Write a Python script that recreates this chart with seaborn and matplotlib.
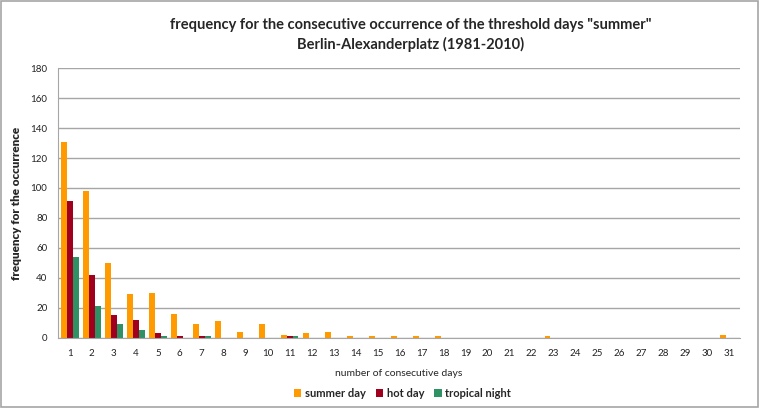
import matplotlib
matplotlib.use("Agg")
import matplotlib.pyplot as plt
import numpy as np
import pandas as pd
import seaborn as sns
from matplotlib.patches import Rectangle

days = list(range(1, 32))
summer_day = [131, 98, 50, 29, 30, 16, 9, 11, 4, 9, 2, 3, 4, 1, 1, 1, 1, 1, 0, 0,
              0, 0, 1, 0, 0, 0, 0, 0, 0, 0, 2]
hot_day = [91, 42, 15, 12, 3, 1, 1, 0, 0, 0, 1, 0, 0, 0, 0, 0, 0, 0, 0, 0,
           0, 0, 0, 0, 0, 0, 0, 0, 0, 0, 0]
tropical_night = [54, 21, 9, 5, 1, 0, 1, 0, 0, 0, 1, 0, 0, 0, 0, 0, 0, 0, 0, 0,
                  0, 0, 0, 0, 0, 0, 0, 0, 0, 0, 0]
series = ["summer day", "hot day", "tropical night"]
colors = ["#FF9A00", "#A0001E", "#2E9265"]

df = pd.DataFrame({
    "days": days * 3,
    "value": summer_day + hot_day + tropical_night,
    "series": [s for s in series for _ in days],
})

sns.set_style("white")
plt.rcParams["font.family"] = ["Lato", "DejaVu Sans"]

fig = plt.figure(figsize=(7.6, 4.08), dpi=100)
ax = fig.add_axes([0.076, 0.172, 0.898, 0.661])

sns.barplot(data=df, x="days", y="value", hue="series", hue_order=series,
            palette=colors, width=0.8, saturation=1, edgecolor="none",
            legend=True, ax=ax)

ax.set_ylim(0, 180)
ax.set_yticks(range(0, 181, 20))
ax.set_xlim(-0.55, 30.45)
ax.yaxis.grid(True, color="#A6A6A6", linewidth=1)
ax.set_axisbelow(True)
for side in ("top", "right"):
    ax.spines[side].set_visible(False)
for side in ("left", "bottom"):
    ax.spines[side].set_color("#A6A6A6")
ax.set_xticks(np.arange(-0.5, 31, 1), minor=True)
ax.tick_params(axis="x", which="major", length=0, labelsize=7, colors="#222222", pad=8)
ax.tick_params(axis="x", which="minor", length=4, color="#A6A6A6")
ax.tick_params(axis="y", length=4, color="#A6A6A6", labelsize=7, colors="#222222")

ax.set_xlabel("number of consecutive days", fontsize=7.5, labelpad=8)
ax.set_ylabel("frequency for the occurrence", fontsize=8.5, fontweight="heavy", labelpad=6)

fig.suptitle('frequency for the consecutive occurrence of the threshold days "summer"\n'
             "Berlin-Alexanderplatz (1981-2010)",
             fontsize=10.5, fontweight="bold", y=0.955, x=0.54, linespacing=1.4)

ax.legend(loc="center", bbox_to_anchor=(0.505, -0.205), ncol=3, frameon=False,
          prop={"weight": "bold", "size": 8}, handlelength=0.7, handleheight=0.7,
          handletextpad=0.3, columnspacing=0.9)

fig.patches.append(Rectangle((0.001, 0.002), 0.997, 0.995, transform=fig.transFigure,
                             fill=False, edgecolor="#A6A6A6", linewidth=1.2))

fig.savefig("out.png", dpi=100)
